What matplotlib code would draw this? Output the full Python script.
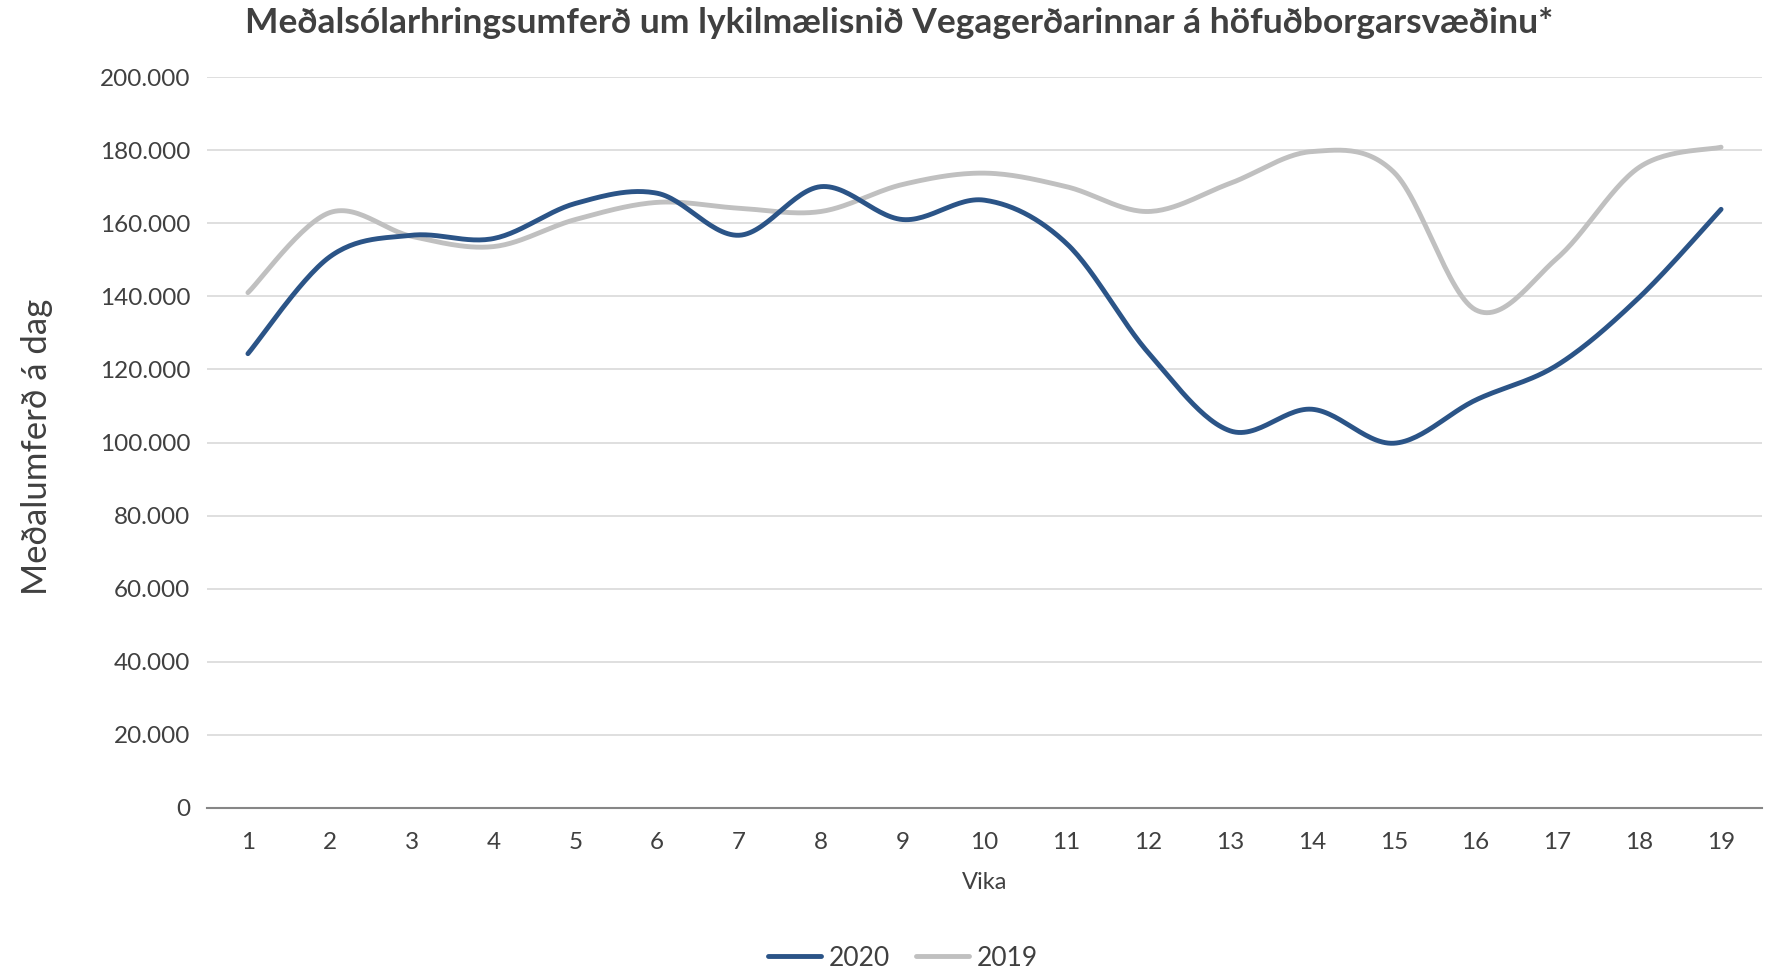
import numpy as np
import matplotlib
matplotlib.use('Agg')
import matplotlib.pyplot as plt
from matplotlib.ticker import FuncFormatter

plt.rcParams['font.family'] = ['Lato', 'DejaVu Sans']

# Data (weekly averages)
weeks = list(range(1, 20))
traffic_2020 = [124300, 150800, 156700, 155800, 165400, 168200, 156700, 170000, 161000, 166300,
                154500, 124600, 103200, 109100, 99800, 111600, 121200, 139700, 163800]
traffic_2019 = [141000, 162900, 156400, 153600, 161000, 165700, 164100, 163200, 170600, 173700,
                170000, 163200, 170900, 179600, 174000, 136300, 150500, 175300, 180800]
y_ticks = list(range(0, 200001, 20000))

title = 'Meðalsólarhringsumferð um lykilmælisnið Vegagerðarinnar á höfuðborgarsvæðinu*'


# Excel-like smoothed line (Catmull-Rom Bezier through the points)
def smooth(x, y, n=30):
    x = np.asarray(x, float)
    y = np.asarray(y, float)
    px = np.concatenate([[x[0]], x, [x[-1]]])
    py = np.concatenate([[y[0]], y, [y[-1]]])
    xs, ys = [], []
    t = np.linspace(0, 1, n)
    for i in range(1, len(px) - 2):
        p0 = np.array([px[i], py[i]])
        p3 = np.array([px[i + 1], py[i + 1]])
        c1 = p0 + (np.array([px[i + 1], py[i + 1]]) - np.array([px[i - 1], py[i - 1]])) / 6
        c2 = p3 - (np.array([px[i + 2], py[i + 2]]) - np.array([px[i], py[i]])) / 6
        b = ((1 - t) ** 3)[:, None] * p0 + (3 * (1 - t) ** 2 * t)[:, None] * c1 \
            + (3 * (1 - t) * t ** 2)[:, None] * c2 + (t ** 3)[:, None] * p3
        xs.extend(b[:, 0])
        ys.extend(b[:, 1])
    return xs, ys


fig = plt.figure(figsize=(17.73, 9.69), dpi=100)
ax = fig.add_axes([207 / 1773, 1 - 808 / 969, (1762 - 207) / 1773, (808 - 77) / 969])

x20, y20 = smooth(weeks, traffic_2020)
x19, y19 = smooth(weeks, traffic_2019)
ax.plot(x20, y20, color='#2B5487', lw=3.5, solid_capstyle='round', label='2020', zorder=3)
ax.plot(x19, y19, color='#C0C0C0', lw=3.5, solid_capstyle='round', label='2019', zorder=2)

ax.set_xlim(0.5, 19.5)
ax.set_ylim(0, 200000)
ax.set_yticks(y_ticks)
ax.yaxis.set_major_formatter(FuncFormatter(lambda v, p: f'{int(v):,}'.replace(',', '.')))
ax.set_xticks(weeks)
ax.grid(axis='y', color='#D9D9D9', lw=1.2)
ax.set_axisbelow(True)
for s in ['top', 'right', 'left']:
    ax.spines[s].set_visible(False)
ax.spines['bottom'].set_color('#868686')
ax.spines['bottom'].set_linewidth(1.5)
ax.tick_params(axis='both', length=0, labelsize=17.5, colors='#404040', pad=12)
ax.tick_params(axis='x', pad=17)

ax.set_xlabel('Vika', fontsize=17, color='#404040', labelpad=14)
fig.text(37 / 1773, 1 - 447 / 969, 'Meðalumferð á dag', rotation=90, fontsize=25,
         color='#404040', ha='center', va='center')
fig.text(899 / 1773, 1 - 23 / 969, title, fontsize=25.5, fontweight='bold', color='#404040',
         ha='center', va='center')

fig.legend(loc='center', bbox_to_anchor=(903 / 1773, 1 - 958 / 969), ncol=2, frameon=False,
           fontsize=19, handlelength=2.0, handletextpad=0.3, columnspacing=1.0,
           labelcolor='#404040')

fig.savefig('out.png', dpi=100)
